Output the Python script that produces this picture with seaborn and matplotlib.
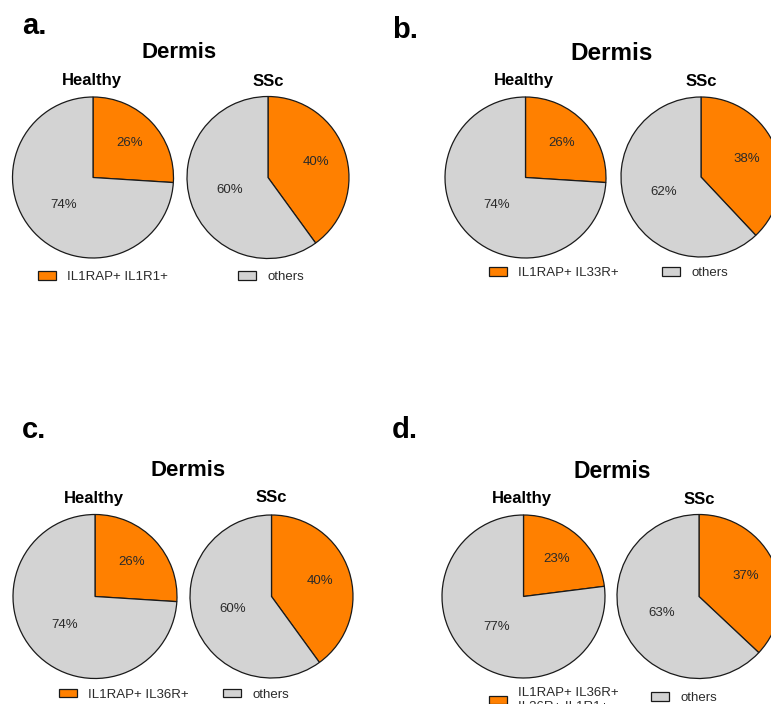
import matplotlib
matplotlib.use('Agg')
import matplotlib.pyplot as plt
import seaborn as sns
import numpy as np

sns.set_style('white')
plt.rcParams['font.family'] = ['Liberation Sans', 'DejaVu Sans']
plt.rcParams['text.color'] = 'black'

# values (percent of cells)
panel_letters = ['a.', 'b.', 'c.', 'd.']
group_names = ['Healthy', 'SSc']
marker_labels = ['IL1RAP+ IL1R1+', 'IL1RAP+ IL33R+', 'IL1RAP+ IL36R+',
                 'IL1RAP+ IL36R+\nIL36R+ IL1R1+']
other_label = 'others'
healthy_pos = [26, 26, 26, 23]
healthy_other = [74, 74, 74, 77]
ssc_pos = [40, 38, 40, 37]
ssc_other = [60, 62, 60, 63]

pie_colors = ['#FF8000', '#D3D3D3']

W, H = 771, 704
fig = plt.figure(figsize=(W / 100, H / 100), dpi=100)


def fx(x):
    return x / W


def fy(y):
    return 1 - y / H


# layout of each panel in pixels: letter, title, subtitles, pies, legend
layout = [
    dict(letter=(22, 34), title=(179, 53, 16), sub=[(92, 81), (268, 81)],
         pies=[(93, 177.5, 80.5), (268, 177.5, 81)],
         leg=[(38, 277), (238, 277)]),
    dict(letter=(392, 38), title=(612, 53, 17.5), sub=[(524, 81), (701, 81)],
         pies=[(525.5, 177.5, 80.5), (701, 177, 80)],
         leg=[(489, 273), (662, 273)]),
    dict(letter=(22, 438), title=(188, 470, 16), sub=[(94, 498), (271, 498)],
         pies=[(95, 596.5, 82), (271.5, 596.5, 81.5)],
         leg=[(59, 694.5), (223, 694.5)]),
    dict(letter=(392, 438), title=(612, 471, 16.5), sub=[(522, 499), (699, 499)],
         pies=[(523.5, 596.5, 81.5), (699, 596.5, 82)],
         leg=[(489, 700), (651, 698)]),
]

for i, lay in enumerate(layout):
    fig.text(fx(lay['letter'][0]), fy(lay['letter'][1]), panel_letters[i],
             fontsize=21, fontweight='bold', ha='left', va='baseline')
    tx, ty, tsize = lay['title']
    fig.text(fx(tx), fy(ty), 'Dermis', fontsize=tsize, fontweight='bold',
             ha='center', va='center')
    for g, (sx, sy) in enumerate(lay['sub']):
        fig.text(fx(sx), fy(sy), group_names[g], fontsize=12, fontweight='bold',
                 ha='center', va='center')

    vals = [[healthy_pos[i], healthy_other[i]], [ssc_pos[i], ssc_other[i]]]
    wedges_keep = None
    for g, (cx, cy, r) in enumerate(lay['pies']):
        m = 1.03
        s = r * m
        ax = fig.add_axes([fx(cx - s), fy(cy + s), 2 * s / W, 2 * s / H])
        wedges, _ = ax.pie(vals[g], colors=pie_colors, startangle=90,
                           counterclock=False,
                           wedgeprops=dict(edgecolor='#1a1a1a', linewidth=0.9))
        ax.set_xlim(-m, m)
        ax.set_ylim(-m, m)
        ax.set_aspect('auto')
        ax.axis('off')
        # percent labels, orange one sits further out than grey one
        for w, v, d in zip(wedges, vals[g], [0.62, 0.5]):
            ang = np.deg2rad((w.theta1 + w.theta2) / 2)
            ax.text(d * np.cos(ang), d * np.sin(ang), f'{v}%', fontsize=9.5,
                    color='#2a2a2a', ha='center', va='center')
        if g == 0:
            wedges_keep = wedges

    for w, lab, (lx, ly) in zip(wedges_keep, [marker_labels[i], other_label], lay['leg']):
        fig.legend(handles=[w], labels=[lab], loc='center left',
                   bbox_to_anchor=(fx(lx), fy(ly)), frameon=False,
                   borderpad=0, borderaxespad=0, handlelength=1.4,
                   handleheight=0.6, handletextpad=0.8, fontsize=9.5,
                   labelspacing=0.1, labelcolor='#2a2a2a')

fig.savefig('out.png', dpi=100)
